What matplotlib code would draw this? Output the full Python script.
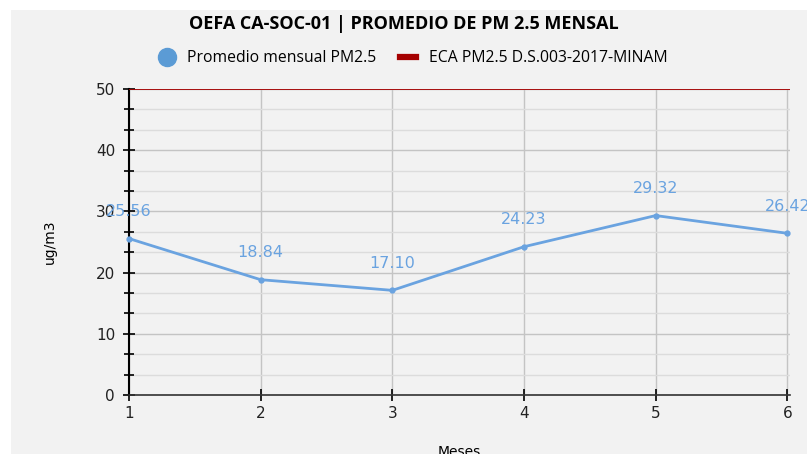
import matplotlib.pyplot as plt
import numpy as np
from matplotlib.lines import Line2D
from matplotlib.patches import Rectangle
from matplotlib.ticker import MultipleLocator

# datos
meses = [1, 2, 3, 4, 5, 6]
promedio_pm25 = [25.56, 18.84, 17.10, 24.23, 29.32, 26.42]
eca_pm25 = 50
etiquetas = ['25.56', '18.84', '17.10', '24.23', '29.32', '26.42']

azul = '#6aa3e0'
rojo = '#a50000'

fig = plt.figure(figsize=(8.07, 4.54), dpi=100)
fig.patch.set_facecolor('white')
# fondo gris del grafico
fondo = Rectangle((11 / 807, 0), 1, (454 - 10) / 454, transform=fig.transFigure,
                  facecolor='#f2f2f2', edgecolor='none', zorder=-5)
fig.patches.append(fondo)

ax = fig.add_axes([129 / 807, 1 - 395 / 454, (790 - 129) / 807, (395 - 89) / 454])
ax.set_facecolor('none')

ax.plot(meses, promedio_pm25, color=azul, lw=2, marker='o', ms=3.5, zorder=3, clip_on=False)
ax.axhline(eca_pm25, color=rojo, lw=1.3, zorder=3)

for x, y, t in zip(meses, promedio_pm25, etiquetas):
    ax.annotate(t, (x, y), xytext=(0, 14), textcoords='offset points', ha='center', va='bottom',
                color=azul, fontsize=11.5, family='DejaVu Sans', annotation_clip=False)

ax.set_xlim(1, 6.02)
ax.set_ylim(0, 50)
ax.set_xticks(meses)
ax.yaxis.set_major_locator(MultipleLocator(10))
ax.yaxis.set_minor_locator(MultipleLocator(10 / 3))

ax.grid(which='major', axis='both', color='#c4c4c4', lw=1)
ax.grid(which='minor', axis='y', color='#dcdcdc', lw=1)
ax.set_axisbelow(True)

for s in ['top', 'right']:
    ax.spines[s].set_visible(False)
ax.spines['left'].set_color('black')
ax.spines['bottom'].set_color('#333333')
ax.spines['left'].set_linewidth(1.5)
ax.spines['bottom'].set_linewidth(1.2)

ax.tick_params(which='major', direction='inout', length=8, width=1.2, labelsize=11,
               colors='black', labelcolor='#222222')
ax.tick_params(which='minor', direction='inout', length=7, width=1.2, colors='black')
ax.tick_params(axis='y', pad=6)
ax.tick_params(axis='x', pad=4)

ax.set_ylabel('ug/m3', fontsize=10, family='DejaVu Sans')
ax.yaxis.set_label_coords(-72 / 661, 0.5)
ax.set_xlabel('Meses', fontsize=10, family='DejaVu Sans', va='center')
ax.xaxis.set_label_coords(0.5, -57 / 306)

fig.text(0.5, 1 - 24 / 454, 'OEFA CA-SOC-01 | PROMEDIO DE PM 2.5 MENSAL', ha='center', va='center',
         fontsize=13, fontweight='bold', family='Open Sans')

handles = [Line2D([], [], ls='none', marker='o', ms=13, color='#5b9bd5'),
           Line2D([], [], color=rojo, lw=4.5)]
fig.legend(handles, ['Promedio mensual PM2.5', 'ECA PM2.5 D.S.003-2017-MINAM'],
           loc='center', bbox_to_anchor=(0.512, 1 - 58 / 454), ncol=2, frameon=False,
           prop={'family': 'Open Sans', 'size': 11.3}, handlelength=1.0, columnspacing=1.5,
           handletextpad=0.8)

fig.savefig('out.png', dpi=100)
